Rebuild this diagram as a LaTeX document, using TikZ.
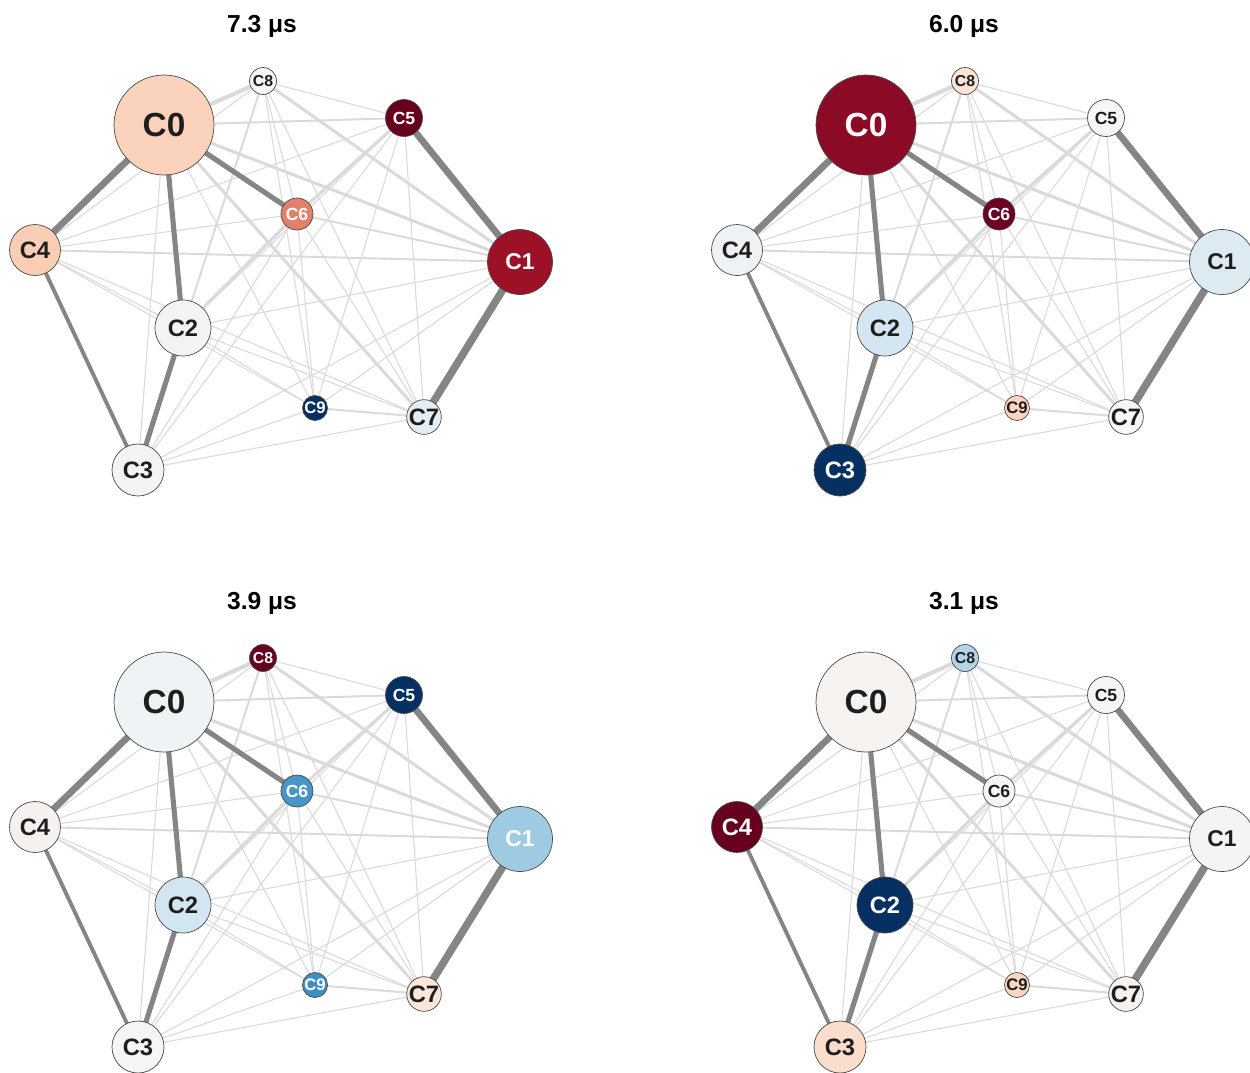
\documentclass[tikz,border=0pt]{standalone}
\usepackage{fontspec}
\setmainfont{Liberation Sans}
\pgfdeclarelayer{bg}
\pgfsetlayers{bg,main}

\definecolor{dkedge}{HTML}{858585}
\definecolor{ltedge}{HTML}{DADADA}
\definecolor{txtdark}{HTML}{1E1E1E}
\definecolor{ringc}{HTML}{4A4A4A}
% panel A (7.3)
\definecolor{A0}{HTML}{FBD3BC}\definecolor{A1}{HTML}{9C1127}\definecolor{A2}{HTML}{F3F3F4}
\definecolor{A3}{HTML}{F4F4F4}\definecolor{A4}{HTML}{FACDB5}\definecolor{A5}{HTML}{67001F}
\definecolor{A6}{HTML}{E3806A}\definecolor{A7}{HTML}{E4EEF4}\definecolor{A8}{HTML}{F7F6F6}
\definecolor{A9}{HTML}{053061}
\colorlet{AT0}{txtdark}\colorlet{AT1}{white}\colorlet{AT2}{txtdark}\colorlet{AT3}{txtdark}
\colorlet{AT4}{txtdark}\colorlet{AT5}{white}\colorlet{AT6}{white}\colorlet{AT7}{txtdark}
\colorlet{AT8}{txtdark}\colorlet{AT9}{white}
% panel B (6.0)
\definecolor{B0}{HTML}{8B0B26}\definecolor{B1}{HTML}{DCEAF2}\definecolor{B2}{HTML}{D3E6F1}
\definecolor{B3}{HTML}{053061}\definecolor{B4}{HTML}{EEF2F5}\definecolor{B5}{HTML}{F4F6F7}
\definecolor{B6}{HTML}{6B0221}\definecolor{B7}{HTML}{F7F7F7}\definecolor{B8}{HTML}{FBE3D6}
\definecolor{B9}{HTML}{FCD5BF}
\colorlet{BT0}{white}\colorlet{BT1}{txtdark}\colorlet{BT2}{txtdark}\colorlet{BT3}{white}
\colorlet{BT4}{txtdark}\colorlet{BT5}{txtdark}\colorlet{BT6}{white}\colorlet{BT7}{txtdark}
\colorlet{BT8}{txtdark}\colorlet{BT9}{txtdark}
% panel C (3.9)
\definecolor{C0}{HTML}{EEF3F6}\definecolor{C1}{HTML}{9ECBE2}\definecolor{C2}{HTML}{D2E5F0}
\definecolor{C3}{HTML}{F5F5F5}\definecolor{C4}{HTML}{F6F1EE}\definecolor{C5}{HTML}{053061}
\definecolor{C6}{HTML}{4895C6}\definecolor{C7}{HTML}{FBE6DA}\definecolor{C8}{HTML}{67001F}
\definecolor{C9}{HTML}{3F8FC5}
\colorlet{CT0}{txtdark}\colorlet{CT1}{white}\colorlet{CT2}{txtdark}\colorlet{CT3}{txtdark}
\colorlet{CT4}{txtdark}\colorlet{CT5}{white}\colorlet{CT6}{white}\colorlet{CT7}{txtdark}
\colorlet{CT8}{white}\colorlet{CT9}{white}
% panel D (3.1)
\definecolor{D0}{HTML}{F6F3F0}\definecolor{D1}{HTML}{F2F4F6}\definecolor{D2}{HTML}{053061}
\definecolor{D3}{HTML}{FBDDCB}\definecolor{D4}{HTML}{67001F}\definecolor{D5}{HTML}{F5F5F5}
\definecolor{D6}{HTML}{F7F4F2}\definecolor{D7}{HTML}{F8F2EF}\definecolor{D8}{HTML}{B0D5E8}
\definecolor{D9}{HTML}{FBD6C1}
\colorlet{DT0}{txtdark}\colorlet{DT1}{txtdark}\colorlet{DT2}{white}\colorlet{DT3}{txtdark}
\colorlet{DT4}{white}\colorlet{DT5}{txtdark}\colorlet{DT6}{txtdark}\colorlet{DT7}{txtdark}
\colorlet{DT8}{txtdark}\colorlet{DT9}{txtdark}

\tikzset{
  nd/.style={circle, draw=ringc, line width=0.4pt, inner sep=0pt},
  sz0/.style={minimum size=2.0cm, font=\bfseries\fontsize{19}{19}\selectfont},
  sz1/.style={minimum size=1.3cm, font=\bfseries\fontsize{13}{13}\selectfont},
  sz2/.style={minimum size=1.12cm, font=\bfseries\fontsize{13.5}{13.5}\selectfont},
  sz3/.style={minimum size=1.04cm, font=\bfseries\fontsize{13.5}{13.5}\selectfont},
  sz4/.style={minimum size=1.02cm, font=\bfseries\fontsize{13.5}{13.5}\selectfont},
  sz5/.style={minimum size=0.74cm, font=\bfseries\fontsize{10}{10}\selectfont},
  sz6/.style={minimum size=0.64cm, font=\bfseries\fontsize{10}{10}\selectfont},
  sz7/.style={minimum size=0.68cm, font=\bfseries\fontsize{13.5}{13.5}\selectfont},
  sz8/.style={minimum size=0.54cm, font=\bfseries\fontsize{9}{9}\selectfont},
  sz9/.style={minimum size=0.50cm, font=\bfseries\fontsize{9.5}{9.5}\selectfont},
  ttl/.style={font=\bfseries\fontsize{14}{14}\selectfont, text=black},
  lt0/.style={draw=ltedge, line width=0.6pt},
  lt1/.style={draw=ltedge, line width=1.1pt},
  lt2/.style={draw=ltedge, line width=1.7pt},
  lt3/.style={draw=ltedge, line width=2.3pt},
  dk1/.style={draw=dkedge, line width=2.2pt},
  dk2/.style={draw=dkedge, line width=2.9pt},
  dk3/.style={draw=dkedge, line width=3.8pt},
  dk4/.style={draw=dkedge, line width=4.3pt},
}

\newcommand\graphpanel[2]{%
  \node[ttl] (#1t) at (262,26) {#2};
  \node[nd,sz0,fill=#10,text=#1T0] (#1n0) at (164,125) {C0};
  \node[nd,sz1,fill=#11,text=#1T1] (#1n1) at (520,262) {C1};
  \node[nd,sz2,fill=#12,text=#1T2] (#1n2) at (183,328) {C2};
  \node[nd,sz3,fill=#13,text=#1T3] (#1n3) at (138,470) {C3};
  \node[nd,sz4,fill=#14,text=#1T4] (#1n4) at (35,250) {C4};
  \node[nd,sz5,fill=#15,text=#1T5] (#1n5) at (404,118) {C5};
  \node[nd,sz6,fill=#16,text=#1T6] (#1n6) at (297,214) {C6};
  \node[nd,sz7,fill=#17,text=#1T7] (#1n7) at (424,417) {C7};
  \node[nd,sz8,fill=#18,text=#1T8] (#1n8) at (263,81) {C8};
  \node[nd,sz9,fill=#19,text=#1T9] (#1n9) at (315,408) {C9};
  \begin{pgfonlayer}{bg}
    \foreach \a/\b/\s in {0/3/lt0,0/9/lt0,1/2/lt0,1/3/lt0,1/9/lt0,2/4/lt0,2/5/lt0,
        2/7/lt0,2/9/lt0,3/5/lt0,3/6/lt0,3/7/lt0,3/9/lt0,4/5/lt0,4/6/lt0,4/7/lt0,
        4/8/lt0,4/9/lt0,5/7/lt0,5/8/lt0,5/9/lt0,6/7/lt0,6/8/lt0,6/9/lt0,7/8/lt0,
        8/9/lt0,0/5/lt1,1/4/lt1,1/6/lt1,7/9/lt1,2/8/lt1,
        0/1/lt2,0/7/lt2,1/8/lt2,5/6/lt2,2/6/lt2,0/8/lt3,
        3/4/dk1,0/2/dk2,0/6/dk2,2/3/dk2,0/4/dk3,1/5/dk3,1/7/dk4}
      {\draw[style=\s] (#1n\a.center) -- (#1n\b.center);}
  \end{pgfonlayer}
}

\begin{document}
\begin{tikzpicture}[x=0.02cm,y=-0.02cm]
  \useasboundingbox (0,0) rectangle (1250,1072);
  \begin{pgfonlayer}{bg}
    \fill[white] (0,0) rectangle (1250,1072);
  \end{pgfonlayer}
  \begin{scope}
    \graphpanel{A}{7.3 μs}
  \end{scope}
  \begin{scope}[shift={(702,0)}]
    \graphpanel{B}{6.0 μs}
  \end{scope}
  \begin{scope}[shift={(0,577)}]
    \graphpanel{C}{3.9 μs}
  \end{scope}
  \begin{scope}[shift={(702,577)}]
    \graphpanel{D}{3.1 μs}
  \end{scope}
\end{tikzpicture}
\end{document}
